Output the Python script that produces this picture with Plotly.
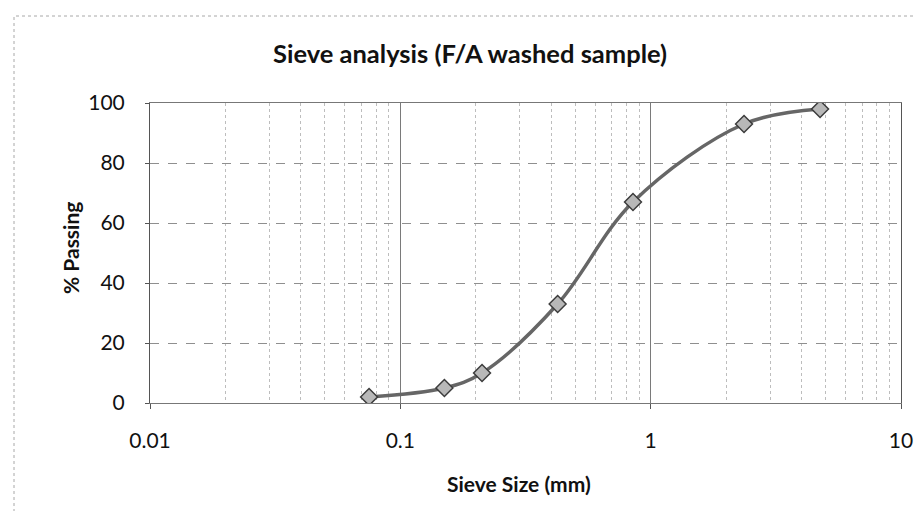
import plotly.graph_objects as go

# Data
sieve_size_mm = [0.075, 0.15, 0.212, 0.425, 0.85, 2.36, 4.75]
percent_passing = [2, 5, 10, 33, 67, 93, 98]

x_tick_vals = [0.01, 0.1, 1, 10]
x_tick_text = ["0.01", "0.1", "1", "10"]
y_tick_vals = [0, 20, 40, 60, 80, 100]

W, H = 924, 511
ML, MR, MT, MB = 142, 31, 95, 116
PW, PH = W - ML - MR, H - MT - MB

fig = go.Figure()
fig.add_trace(go.Scatter(
    x=sieve_size_mm, y=percent_passing,
    mode="lines+markers",
    line=dict(color="#666666", width=3.5, shape="spline", smoothing=1.0),
    marker=dict(symbol="diamond", size=13, color="#b8b8b8",
                line=dict(color="#3c3c3c", width=1.5)),
    showlegend=False,
))

font_family = "Lato, 'Open Sans', Arial, sans-serif"

fig.update_layout(
    width=W, height=H,
    margin=dict(l=ML, r=MR, t=MT, b=MB),
    paper_bgcolor="white", plot_bgcolor="white",
    font=dict(family=font_family, color="#111111", size=21),
    title=dict(text="<b>Sieve analysis (F/A washed sample)</b>",
               x=0.5, xref="container", xanchor="center",
               y=1 - 46 / H, yref="container", yanchor="middle",
               font=dict(size=25.5, family=font_family, color="#111111")),
    xaxis=dict(
        type="log", range=[-2, 1],
        tickvals=x_tick_vals, ticktext=x_tick_text,
        ticks="outside", ticklen=5, tickcolor="#555",
        ticklabelstandoff=14,
        showgrid=True, gridcolor="#7a7a7a", gridwidth=1,
        minor=dict(dtick="D1", showgrid=True, gridcolor="#bdbdbd",
                   griddash="dot", gridwidth=1, ticks=""),
        showline=True, linecolor="#777", mirror=True,
        tickfont=dict(size=21),
        zeroline=False, automargin=False,
    ),
    yaxis=dict(
        range=[0, 100], tickvals=y_tick_vals,
        ticks="outside", ticklen=4, tickcolor="#555",
        ticklabelstandoff=16,
        showgrid=True, gridcolor="#8f8f8f", griddash="dash", gridwidth=1,
        showline=True, linecolor="#555", mirror=True,
        tickfont=dict(size=21),
        zeroline=False, automargin=False,
    ),
    annotations=[
        dict(text="<b>Sieve Size (mm)</b>", xref="paper", yref="paper",
             x=(511 - ML) / PW, y=-(475 - (H - MB)) / PH,
             xanchor="center", yanchor="middle", showarrow=False,
             font=dict(size=21, family=font_family, color="#111111")),
        dict(text="<b>% Passing</b>", xref="paper", yref="paper",
             x=-(ML - 63) / PW, y=(H - MB - 240) / PH,
             xanchor="center", yanchor="middle", showarrow=False, textangle=-90,
             font=dict(size=21, family=font_family, color="#111111")),
    ],
)

# Faint outer chart border (left and top edges visible)
fig.add_shape(type="rect", xref="paper", yref="paper",
              x0=(6 - ML) / PW, x1=(W + 10 - ML) / PW,
              y0=(H - MB - (H + 10)) / PH, y1=(H - 8 - MB) / PH,
              line=dict(color="#a8a8a8", width=1, dash="dot"), layer="below")

fig.write_html("out.html")
